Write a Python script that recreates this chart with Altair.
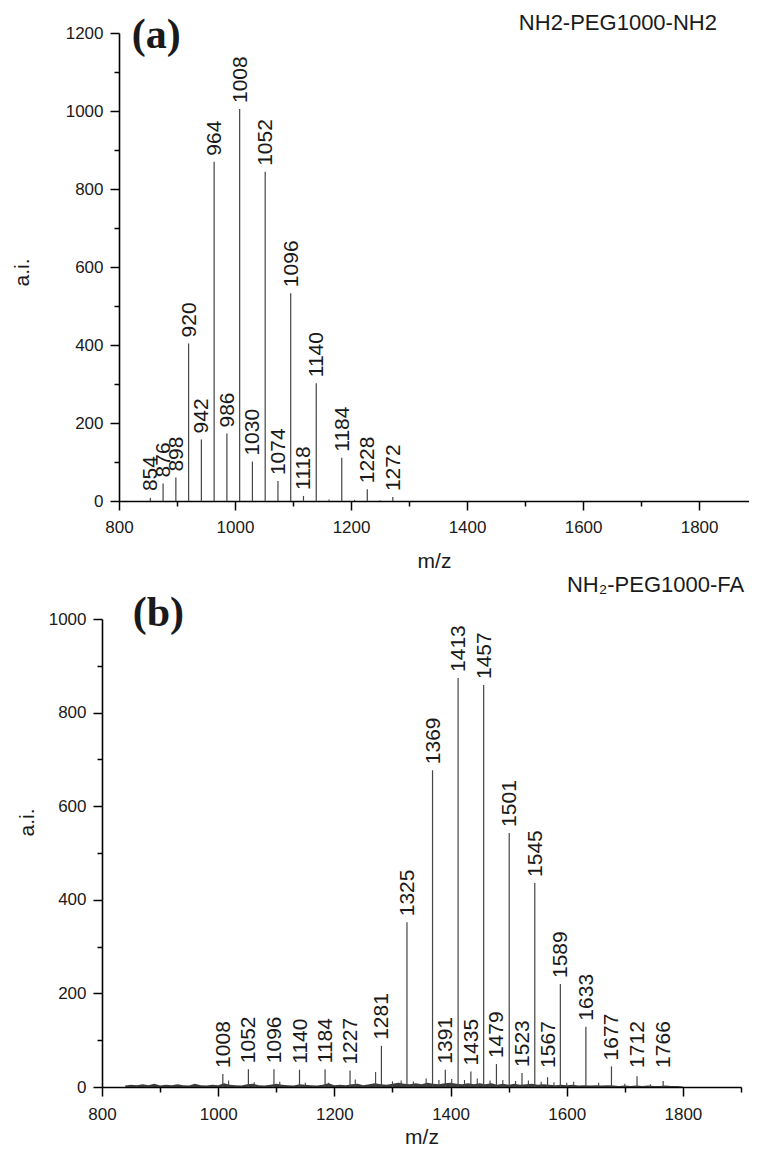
import altair as alt
import pandas as pd

FONT = "Liberation Sans"

# ---------------- panel (a): NH2-PEG1000-NH2 ----------------
a_mz = [854, 876, 898, 920, 942, 964, 986, 1008, 1030, 1052, 1074, 1096,
        1118, 1140, 1184, 1228, 1272]
a_int = [8, 45, 60, 404, 158, 870, 173, 1005, 101, 844, 51, 533,
         13, 302, 111, 30, 10]
a_lab = ["854", "876", "898", "920", "942", "964", "986", "1008", "1030",
         "1052", "1074", "1096", "1118", "1140", "1184", "1228", "1272"]
a_minor_mz = [1162, 1206, 1250]
a_minor_int = [4, 3, 2]

# ---------------- panel (b): NH2-PEG1000-FA ----------------
b_mz = [1008, 1052, 1096, 1140, 1184, 1227, 1281, 1325, 1369, 1391, 1413,
        1435, 1457, 1479, 1501, 1523, 1545, 1567, 1589, 1633, 1677, 1721, 1766]
b_int = [28, 38, 38, 37, 38, 35, 88, 352, 677, 37, 874,
         33, 859, 49, 543, 30, 436, 21, 220, 129, 44, 23, 13]
b_lab = ["1008", "1052", "1096", "1140", "1184", "1227", "1281", "1325",
         "1369", "1391", "1413", "1435", "1457", "1479", "1501", "1523",
         "1545", "1567", "1589", "1633", "1677", "1712", "1766"]
b_minor_mz = [1018, 1062, 1106, 1150, 1190, 1236, 1271, 1300, 1315, 1336,
              1358, 1380, 1402, 1424, 1446, 1468, 1490, 1512, 1534, 1556,
              1578, 1600, 1612, 1655, 1700, 1744]
b_minor_int = [14, 10, 11, 9, 9, 16, 32, 12, 14, 12,
               18, 15, 17, 15, 18, 14, 15, 13, 14, 11,
               10, 9, 11, 9, 7, 6]
noise_mz = [840, 850, 860, 870, 880, 890, 900, 910, 920, 930,
            940, 950, 960, 970, 980, 990, 1000, 1010, 1020, 1030,
            1040, 1050, 1060, 1070, 1080, 1090, 1100, 1110, 1120, 1130,
            1140, 1150, 1160, 1170, 1180, 1190, 1200, 1210, 1220, 1230,
            1240, 1250, 1260, 1270, 1280, 1290, 1300, 1310, 1320, 1330,
            1340, 1350, 1360, 1370, 1380, 1390, 1400, 1410, 1420, 1430,
            1440, 1450, 1460, 1470, 1480, 1490, 1500, 1510, 1520, 1530,
            1540, 1550, 1560, 1570, 1580, 1590, 1600, 1610, 1620, 1630,
            1640, 1650, 1660, 1670, 1680, 1690, 1700, 1710, 1720, 1730,
            1740, 1750, 1760, 1770, 1780, 1790, 1800]
noise_int = [3, 5, 4, 6, 4, 7, 3, 5, 4, 6,
             4, 3, 7, 4, 3, 5, 4, 8, 5, 4,
             3, 6, 7, 4, 3, 5, 7, 5, 4, 3,
             6, 5, 4, 3, 5, 8, 4, 5, 4, 6,
             7, 4, 6, 8, 6, 5, 7, 9, 7, 6,
             8, 6, 9, 7, 6, 8, 9, 7, 6, 8,
             6, 8, 6, 8, 5, 7, 5, 7, 5, 6,
             7, 5, 6, 5, 4, 5, 4, 5, 3, 4,
             3, 4, 3, 4, 3, 2, 3, 2, 3, 2,
             3, 2, 2, 3, 2, 2, 1]

x_major_vals = [800, 1000, 1200, 1400, 1600, 1800]
xa_minor_vals = [900, 1100, 1300, 1500, 1700]
xb_minor_vals = [900, 1100, 1300, 1500, 1700, 1900]
ya_major_vals = [0, 200, 400, 600, 800, 1000, 1200]
ya_minor_vals = [100, 300, 500, 700, 900, 1100]
yb_major_vals = [0, 200, 400, 600, 800, 1000]
yb_minor_vals = [100, 300, 500, 700, 900]

PEAK_COLOR = "#444444"
TEXT_COLOR = "#1a1a1a"


def x_axes(minor_vals, label_padding, title_padding):
    major = alt.Axis(values=x_major_vals, title="m/z", orient="bottom", tickSize=9,
                     labelPadding=label_padding, titlePadding=title_padding,
                     format="d", labelFlush=False)
    minor = alt.Axis(values=minor_vals, labels=False, domain=False, title=None,
                     orient="bottom", tickSize=5)
    return major, minor


def y_axes(major_vals, minor_vals, offset, title_x, title_y):
    major = alt.Axis(values=major_vals, title="a.i.", orient="left", tickSize=9,
                     labelPadding=7, format="d", labelFlush=False, offset=offset,
                     titleX=title_x, titleY=title_y)
    minor = alt.Axis(values=minor_vals, labels=False, domain=False, title=None,
                     orient="left", tickSize=5, offset=offset)
    return major, minor


def panel(peaks, minors, noise, xs, ys, width, x_minor_vals, y_major_vals,
          y_minor_vals, y_offset, title_x, title_y, label_floor,
          x_label_pad, x_title_pad, annotations):
    xmaj, xmin = x_axes(x_minor_vals, x_label_pad, x_title_pad)
    ymaj, ymin = y_axes(y_major_vals, y_minor_vals, y_offset, title_x, title_y)
    layers = []
    if noise is not None:
        layers.append(
            alt.Chart(noise).mark_area(color="#1a1a1a", opacity=0.85).encode(
                x=alt.X("mz:Q", scale=xs, axis=None),
                y=alt.Y("I:Q", scale=ys, axis=None),
            )
        )
    layers.append(
        alt.Chart(minors).mark_rule(color=PEAK_COLOR, strokeWidth=1.1).encode(
            x=alt.X("mz:Q", scale=xs, axis=None),
            y=alt.Y("I:Q", scale=ys, axis=None),
            y2=alt.datum(0),
        )
    )
    layers.append(
        alt.Chart(peaks).mark_rule(color=PEAK_COLOR, strokeWidth=1.2).encode(
            x=alt.X("mz:Q", scale=xs, axis=xmaj),
            y=alt.Y("I:Q", scale=ys, axis=ymaj),
            y2=alt.datum(0),
        )
    )
    layers.append(
        alt.Chart(peaks).mark_point(opacity=0).encode(
            x=alt.X("mz:Q", scale=xs, axis=xmin),
            y=alt.Y("I:Q", scale=ys, axis=ymin),
        )
    )
    layers.append(
        alt.Chart(peaks)
        .transform_calculate(ly=f"max(datum.I, {label_floor})")
        .mark_text(angle=270, align="left", baseline="middle", dx=6, dy=1,
                   font=FONT, fontSize=21, color=TEXT_COLOR)
        .encode(
            x=alt.X("mz:Q", scale=xs, axis=None),
            y=alt.Y("ly:Q", scale=ys, axis=None),
            text="label:N",
        )
    )
    for (ax, ay, txt, fnt, fs, fw) in annotations:
        layers.append(
            alt.Chart(pd.DataFrame({"x": [ax], "y": [ay], "t": [txt]}))
            .mark_text(align="center", baseline="middle", font=fnt, fontSize=fs,
                       fontWeight=fw, color=TEXT_COLOR)
            .encode(
                x=alt.X("x:Q", scale=xs, axis=None),
                y=alt.Y("y:Q", scale=ys, axis=None),
                text="t:N",
            )
        )
    return (
        alt.layer(*layers)
        .resolve_axis(x="independent", y="independent")
        .properties(width=width, height=468)
    )


df_a = pd.DataFrame({"mz": a_mz, "I": a_int, "label": a_lab})
df_a_minor = pd.DataFrame({"mz": a_minor_mz, "I": a_minor_int})
df_b = pd.DataFrame({"mz": b_mz, "I": b_int, "label": b_lab})
df_b_minor = pd.DataFrame({"mz": b_minor_mz, "I": b_minor_int})
df_noise = pd.DataFrame({"mz": noise_mz, "I": noise_int})

xs_a = alt.Scale(domain=[800, 1886], range=[17, 647], nice=False, zero=False)
ys_a = alt.Scale(domain=[0, 1200], nice=False)
xs_b = alt.Scale(domain=[800, 1900], nice=False, zero=False)
ys_b = alt.Scale(domain=[0, 1000], nice=False)

top = panel(
    df_a, df_a_minor, None, xs_a, ys_a, 647, xa_minor_vals, ya_major_vals,
    ya_minor_vals, -17, -87, 239, 10, 9, 15,
    [(864, 1196, "(a)", "Liberation Serif", 42, "bold"),
     (1660, 1226, "NH2-PEG1000-NH2", FONT, 22, "normal")],
)
bottom = panel(
    df_b, df_b_minor, df_noise, xs_b, ys_b, 639, xb_minor_vals, yb_major_vals,
    yb_minor_vals, 0, -65, 203, 28, 10, 4,
    [(897, 1013, "(b)", "Liberation Serif", 42, "bold"),
     (1753, 1073, "NH\u2082-PEG1000-FA", FONT, 22, "normal")],
)

chart = (
    alt.vconcat(top, bottom, spacing=2)
    .properties(padding={"left": 3, "top": 3, "right": 0, "bottom": 0})
    .configure_view(stroke=None)
    .configure_axis(
        grid=False,
        domainColor="#000000",
        domainWidth=1.6,
        tickColor="#000000",
        tickWidth=1.5,
        labelFont=FONT,
        labelFontSize=17,
        labelColor=TEXT_COLOR,
        titleFont=FONT,
        titleFontSize=21,
        titleFontWeight="normal",
        titleColor=TEXT_COLOR,
    )
)

chart.save("out.html", embed_options={"renderer": "svg", "actions": False})
